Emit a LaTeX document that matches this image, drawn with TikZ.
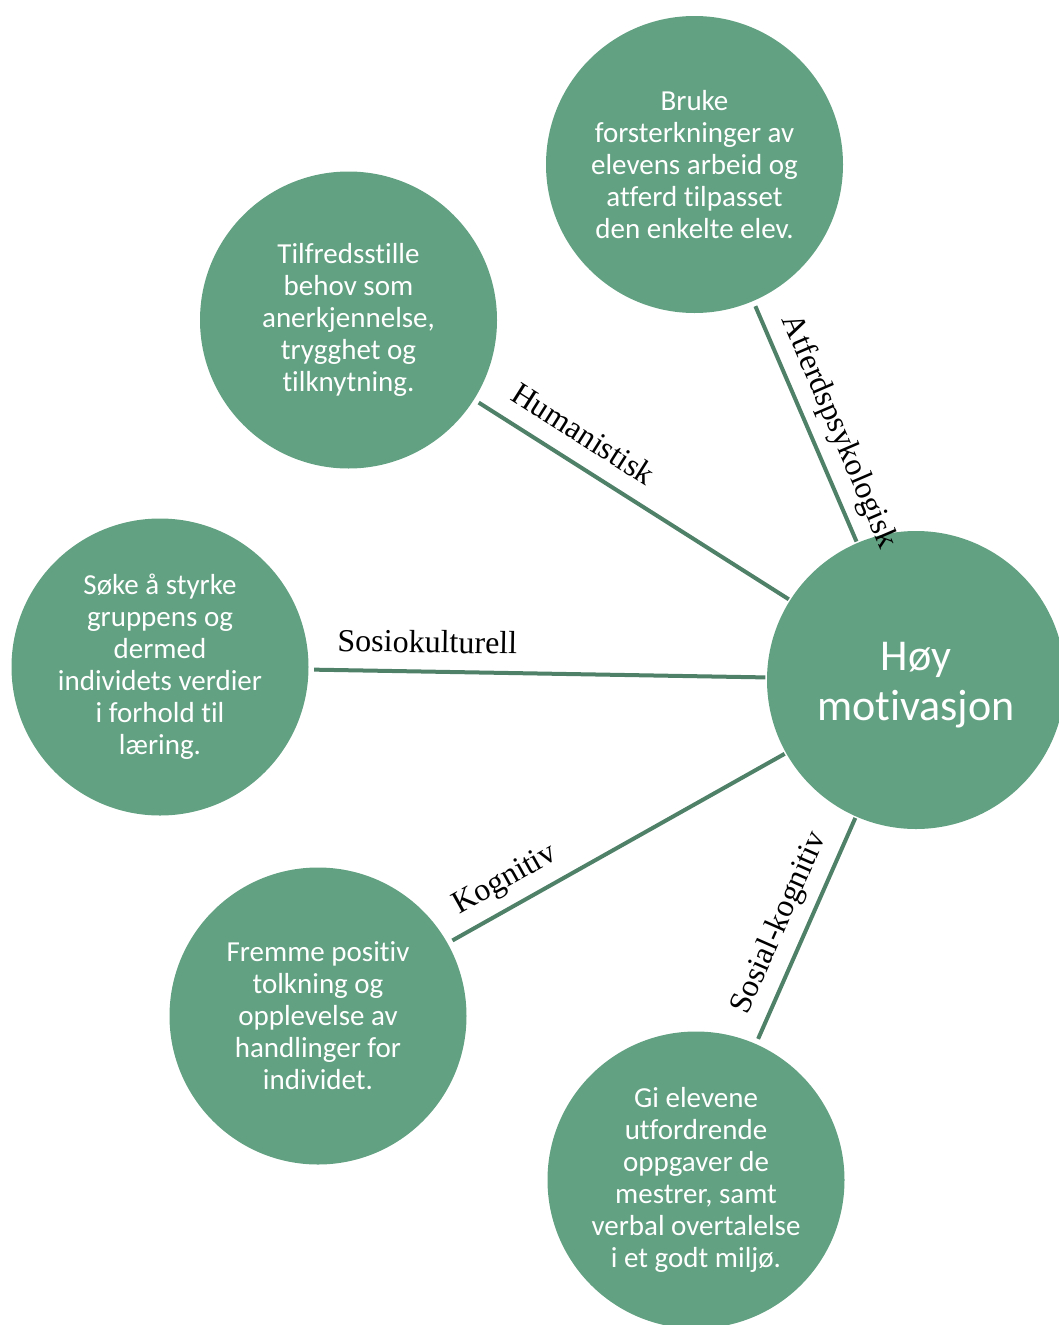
\documentclass[tikz,border=0pt]{standalone}
\usepackage{fontspec}
\setmainfont{Carlito}[Ligatures=NoCommon]
\newfontfamily\labelfont{Liberation Serif}
\definecolor{circfill}{HTML}{63A183}
\definecolor{linkcol}{HTML}{4F8068}
\begin{document}
\begin{tikzpicture}[x=1pt,y=-1pt,
  bubble/.style={circle, fill=circfill, draw=none, minimum size=297pt, inner sep=0pt,
    align=center, text=white, font=\fontsize{29}{32}\selectfont},
  hub/.style={bubble, minimum size=298pt, font=\fontsize{44}{50}\selectfont},
  link/.style={draw=linkcol, line width=4pt, shorten <=5.5pt, shorten >=1.5pt},
  lbl/.style={sloped, above=17pt, inner sep=0pt, text depth=0pt,
    font=\labelfont\fontsize{32}{36}\selectfont, text=black}]
\useasboundingbox (0,0) rectangle (1058,1325);
\node[hub] (c) at (916,680) {\rule{0pt}{38pt}Høy\\motivasjon};
\node[bubble] (a) at (694.5,164.5) {Bruke\\forsterkninger av\\elevens arbeid og\\atferd tilpasset\\den enkelte elev.};
\node[bubble] (h) at (348.5,320) {Tilfredsstille\\behov som\\anerkjennelse,\\trygghet og\\tilknytning.};
\node[bubble] (s) at (160,667) {Søke å styrke\\gruppens og\\dermed\\individets verdier\\i forhold til\\læring.};
\node[bubble] (k) at (318,1016) {Fremme positiv\\tolkning og\\opplevelse av\\handlinger for\\individet.};
\node[bubble] (sk) at (696,1180) {Gi elevene\\utfordrende\\oppgaver de\\mestrer, samt\\verbal overtalelse\\i et godt miljø.};
\draw[link] (a) -- node[lbl, pos=0.585] {Atferdspsykologisk} (c);
\draw[link] (h) -- node[lbl, pos=0.296] {Humanistisk} (c);
\draw[link] (s) -- node[lbl, pos=0.258] {Sosiokulturell} (c);
\draw[link] (k) -- node[lbl, pos=0.209] {Kognitiv} (c);
\draw[link] (sk) -- node[lbl, pos=0.485] {Sosial-kognitiv} (c);
\end{tikzpicture}
\end{document}
